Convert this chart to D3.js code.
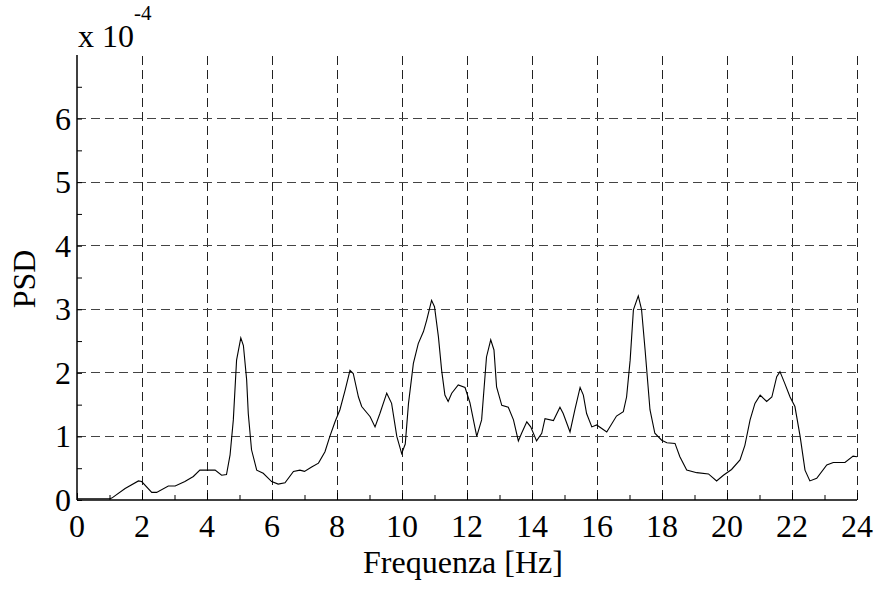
<!DOCTYPE html>
<html>
<head>
<meta charset="utf-8">
<script src="https://cdn.jsdelivr.net/npm/d3@7"></script>
<style>
  body { margin: 0; background: #fff; }
  text { font-family: "Liberation Serif", "Times New Roman", serif; fill: #000; }
</style>
</head>
<body>
<div id="viz"></div>
<script>
// frequenza (Hz) e PSD (x 1e-4)
var freq = [0, 0.5, 1.0, 1.07, 1.48, 1.89, 1.99, 2.3, 2.45, 2.81, 3.02, 3.32, 3.58, 3.78, 4.25, 4.45, 4.6, 4.71, 4.81, 4.91, 5.04, 5.12, 5.22, 5.27, 5.37, 5.53, 5.73, 5.99, 6.19, 6.4, 6.66, 6.86, 7.0, 7.22, 7.43, 7.63, 7.78, 7.94, 8.09, 8.25, 8.4, 8.5, 8.66, 8.76, 9.02, 9.17, 9.32, 9.53, 9.68, 9.84, 9.99, 10.1, 10.2, 10.35, 10.5, 10.66, 10.76, 10.91, 11.0, 11.12, 11.22, 11.32, 11.42, 11.53, 11.73, 11.94, 12.09, 12.3, 12.45, 12.6, 12.73, 12.83, 12.91, 13.07, 13.27, 13.43, 13.58, 13.68, 13.84, 13.96, 14.14, 14.3, 14.4, 14.66, 14.86, 14.96, 15.17, 15.32, 15.48, 15.58, 15.68, 15.84, 15.99, 16.3, 16.6, 16.81, 16.91, 17.02, 17.12, 17.27, 17.37, 17.48, 17.63, 17.78, 17.99, 18.15, 18.4, 18.55, 18.76, 19.07, 19.43, 19.68, 19.89, 20.14, 20.4, 20.55, 20.71, 20.86, 21.02, 21.22, 21.38, 21.53, 21.63, 21.78, 21.94, 22.09, 22.25, 22.4, 22.55, 22.76, 23.07, 23.27, 23.63, 23.88, 24];
var psd = [0.02, 0.02, 0.02, 0.03, 0.18, 0.30, 0.29, 0.12, 0.12, 0.22, 0.22, 0.29, 0.37, 0.47, 0.47, 0.39, 0.40, 0.71, 1.26, 2.2, 2.55, 2.43, 1.89, 1.36, 0.79, 0.47, 0.42, 0.29, 0.25, 0.27, 0.45, 0.47, 0.45, 0.52, 0.58, 0.76, 1.0, 1.23, 1.42, 1.73, 2.04, 1.99, 1.62, 1.47, 1.31, 1.15, 1.36, 1.68, 1.52, 1.0, 0.73, 0.88, 1.52, 2.15, 2.46, 2.65, 2.83, 3.14, 3.04, 2.57, 2.04, 1.65, 1.55, 1.68, 1.81, 1.77, 1.53, 1.0, 1.26, 2.25, 2.52, 2.36, 1.78, 1.49, 1.46, 1.26, 0.93, 1.05, 1.23, 1.15, 0.93, 1.05, 1.28, 1.25, 1.46, 1.36, 1.07, 1.42, 1.77, 1.65, 1.36, 1.15, 1.18, 1.07, 1.32, 1.39, 1.62, 2.2, 2.99, 3.21, 3.0, 2.36, 1.42, 1.05, 0.94, 0.90, 0.89, 0.68, 0.47, 0.43, 0.41, 0.30, 0.39, 0.48, 0.63, 0.86, 1.26, 1.52, 1.65, 1.55, 1.62, 1.94, 2.02, 1.83, 1.62, 1.47, 1.0, 0.47, 0.30, 0.34, 0.55, 0.59, 0.59, 0.69, 0.68];

var xTicks = [0, 2, 4, 6, 8, 10, 12, 14, 16, 18, 20, 22, 24];
var yTicks = [0, 1, 2, 3, 4, 5, 6];

(function() {
var W = 879, H = 590;
var mLeft = 77, mRight = 857, mTop = 55, mBottom = 500;

var svg = d3.select('#viz').append('svg')
  .attr('width', W).attr('height', H);

var x = d3.scaleLinear().domain([0, 24]).range([mLeft, mRight]);
var y = d3.scaleLinear().domain([0, 7]).range([mBottom, mTop]);

// griglia tratteggiata
svg.append('g').selectAll('line')
  .data(xTicks.filter(function(d){ return d > 0; }))
  .join('line')
  .attr('x1', d => x(d)).attr('x2', d => x(d))
  .attr('y1', mTop).attr('y2', mBottom)
  .attr('stroke', '#222').attr('stroke-width', 1)
  .attr('stroke-dasharray', '9,5')
  .attr('stroke-dashoffset', 13)
  .attr('shape-rendering', 'crispEdges');

svg.append('g').selectAll('line')
  .data(yTicks.filter(function(d){ return d > 0; }))
  .join('line')
  .attr('x1', mLeft).attr('x2', mRight)
  .attr('y1', d => y(d)).attr('y2', d => y(d))
  .attr('stroke', '#444').attr('stroke-width', 1)
  .attr('stroke-dasharray', '9,5')
  .attr('shape-rendering', 'crispEdges');

// assi
var xAxis = d3.axisBottom(x).tickValues(d3.range(0, 25, 1))
  .tickSize(-6).tickFormat('');
svg.append('g').attr('transform', 'translate(0,' + mBottom + ')').call(xAxis)
  .call(g => g.select('.domain').remove())
  .call(g => g.selectAll('line').attr('stroke', '#000')
    .attr('y2', d => d % 2 === 0 ? -7 : -5));

var yAxis = d3.axisLeft(y).tickValues(d3.range(0, 7, 0.5))
  .tickSize(-5).tickFormat('');
svg.append('g').attr('transform', 'translate(' + mLeft + ',0)').call(yAxis)
  .call(g => g.select('.domain').remove())
  .call(g => g.selectAll('line').attr('stroke', '#000'));

svg.append('line').attr('x1', mLeft).attr('x2', mRight)
  .attr('y1', mBottom).attr('y2', mBottom).attr('stroke', '#000').attr('stroke-width', 1.5);
svg.append('line').attr('x1', mLeft).attr('x2', mLeft)
  .attr('y1', mTop).attr('y2', mBottom).attr('stroke', '#000').attr('stroke-width', 1.5);

// etichette dei tick
svg.append('g').selectAll('text').data(xTicks).join('text')
  .attr('x', d => x(d)).attr('y', 537)
  .attr('text-anchor', 'middle').style('font-size', '32px')
  .text(d => d);

svg.append('g').selectAll('text').data(yTicks).join('text')
  .attr('x', 71).attr('y', d => y(d) + 11)
  .attr('text-anchor', 'end').style('font-size', '32px')
  .text(d => d);

// curva
var line = d3.line().x((d, i) => x(freq[i])).y(d => y(d));
svg.append('path').datum(psd)
  .attr('d', line).attr('fill', 'none')
  .attr('stroke', '#000').attr('stroke-width', 1.1);

// titoli
svg.append('text').attr('x', 463).attr('y', 573)
  .attr('text-anchor', 'middle').style('font-size', '32px')
  .text('Frequenza [Hz]');

svg.append('text').attr('transform', 'translate(35,279) rotate(-90)')
  .attr('text-anchor', 'middle').style('font-size', '32px')
  .text('PSD');

var mult = svg.append('text').attr('x', 78).attr('y', 47).style('font-size', '32px');
mult.append('tspan').text('x 10');
mult.append('tspan').attr('dy', -27).style('font-size', '21px').text('-4');
})();
</script>
</body>
</html>
